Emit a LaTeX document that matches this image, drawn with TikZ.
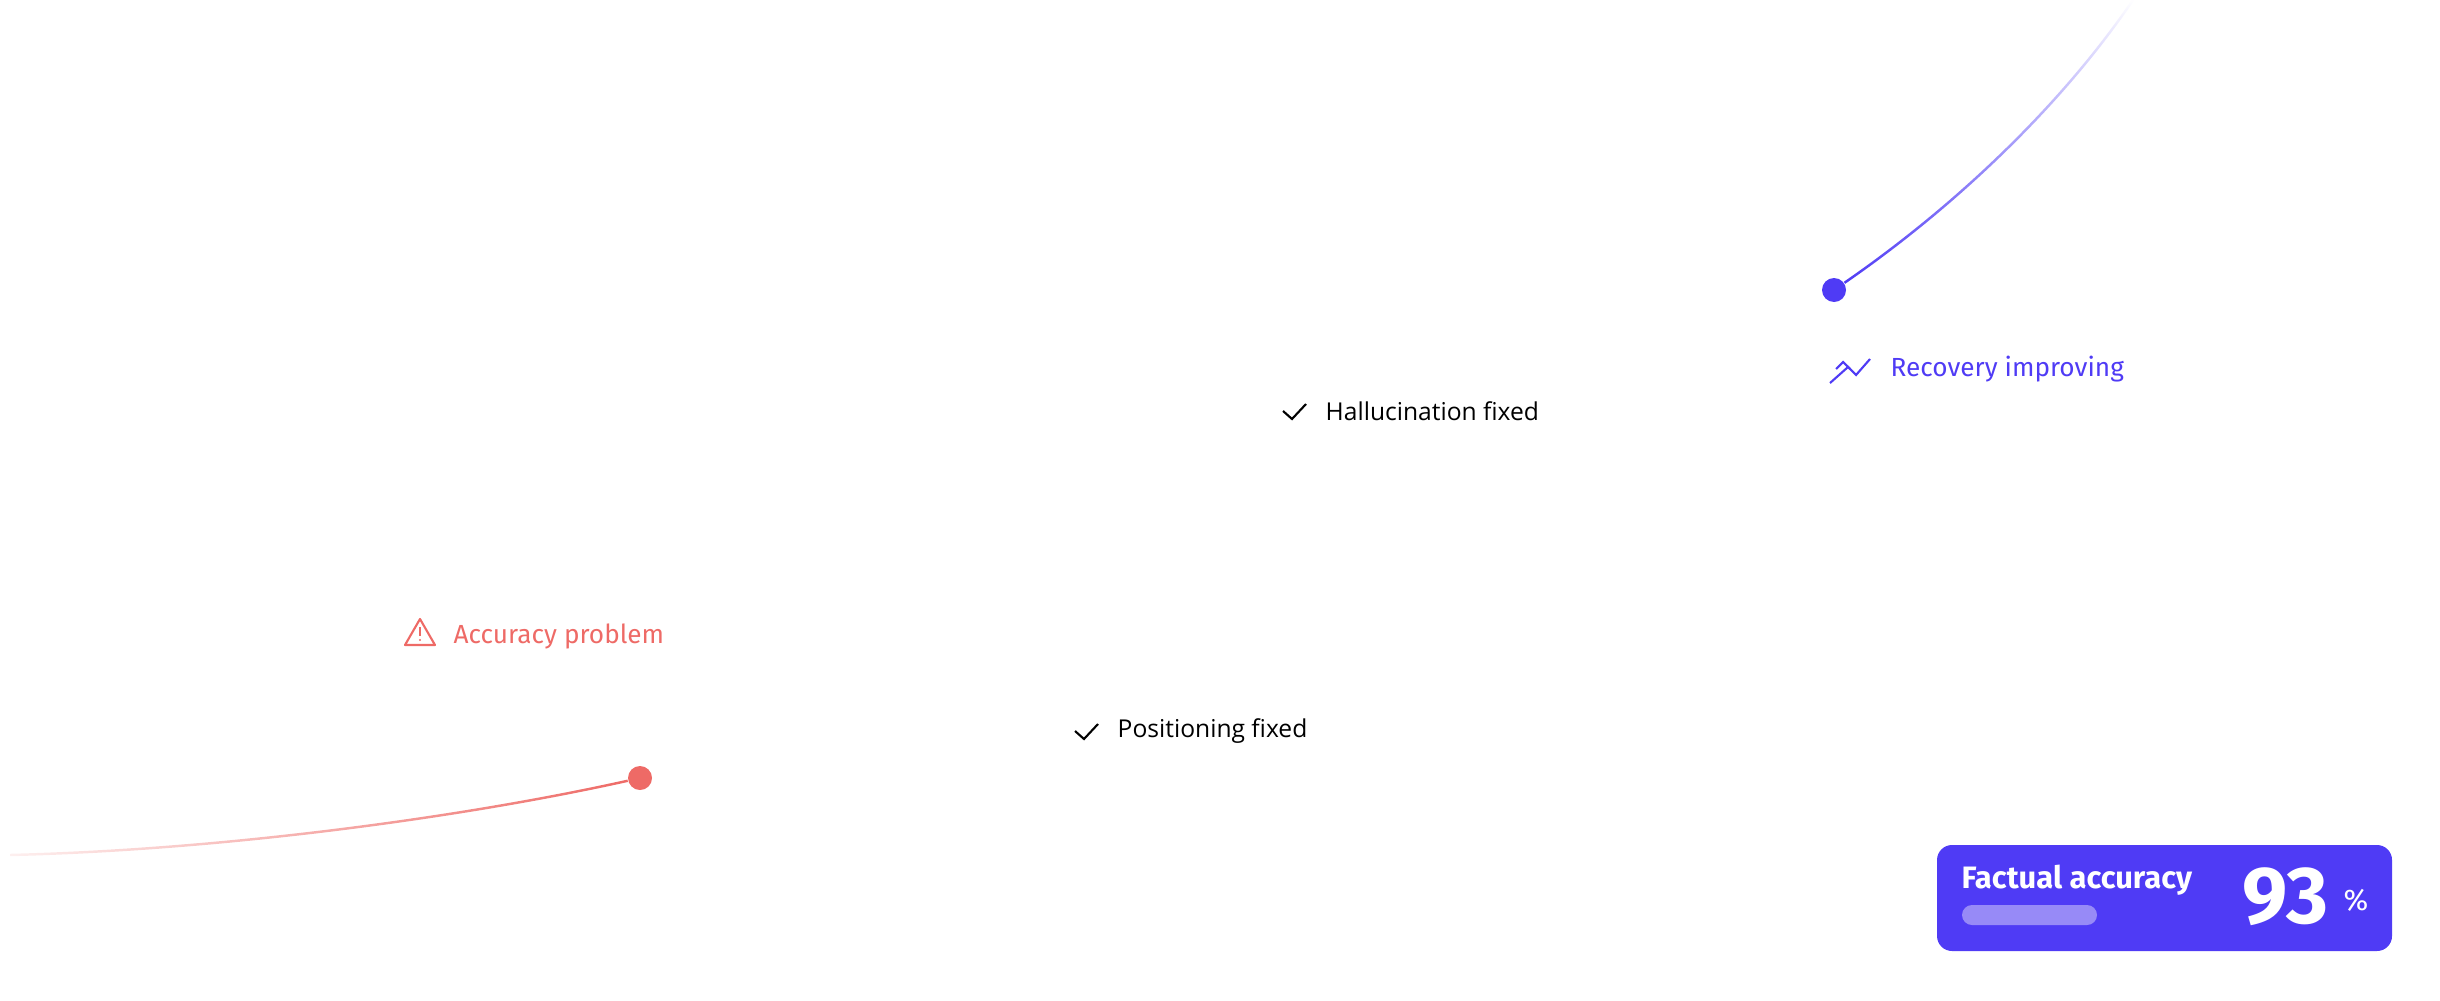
\documentclass[tikz,border=0pt]{standalone}
\usepackage{fontspec}
\setmainfont{Open Sans}
\newfontfamily\labelfont{Fira Sans}
\usetikzlibrary{positioning,fadings}
\definecolor{indigo}{HTML}{4F3BF5}
\definecolor{coral}{HTML}{EE6A66}
\definecolor{barlight}{HTML}{978AF7}
\tikzfading[name=fadetop, top color=transparent!100, middle color=transparent!0, bottom color=transparent!0]
\tikzfading[name=fadeleft, left color=transparent!90, middle color=transparent!5, right color=transparent!0]
\newlength{\pxlen}
\setlength{\pxlen}{0.01cm}
\tikzset{
  dot/.style={circle, inner sep=0pt, minimum size=24\pxlen},
  check/.style={font=\fontsize{7}{8}\selectfont, anchor=west, inner sep=0pt, text=black},
  status/.style={font=\labelfont\fontsize{7.45}{8}\selectfont, anchor=west, inner sep=0pt},
}
\begin{document}
\begin{tikzpicture}[x=0.01cm, y=-0.01cm]
        \useasboundingbox (0,0) rectangle (2440,1000);

        % recovery curve
        \node[dot, fill=indigo] (up) at (1834,290) {};
        \coordinate (uptop) at (2133,0);
        \draw[indigo, line width=0.7pt, path fading=fadetop] (up) .. controls (1950,210) and (2058,110) .. (uptop);
        \node[status, text=indigo] (rec) at (1890,369) {Recovery improving};
        \draw[indigo, line width=0.6pt] (1830,383) -- (1848,367) -- (1856,375) -- (1870,359);
        \draw[indigo, line width=0.6pt] (1836,369) -- (1843,362) -- (1850,369);

        % problem curve
        \node[dot, fill=coral] (down) at (640,778) {};
        \coordinate (downend) at (10,855);
        \draw[coral, line width=0.7pt, path fading=fadeleft] (down) .. controls (460,818) and (220,850) .. (downend);
        \node[status, text=coral] (acc) at (453,636) {Accuracy problem};
        \draw[coral, line width=0.6pt, line join=round] (420,619) -- (435,645) -- (405,645) -- cycle;
        \draw[coral, line width=0.6pt] (420,627) -- (420,636);
        \fill[coral] (420,640) circle (1.2);

        % fixes
        \node[check] (hal) at (1325,411) {Hallucination fixed};
        \draw[line width=0.6pt] (1283,411) -- (1292,419) -- (1306,404);
        \node[check] (pos) at (1117,731) {Positioning fixed};
        \draw[line width=0.6pt] (1075,731) -- (1084,739) -- (1098,724);

        % accuracy card
        \fill[indigo, rounded corners=15\pxlen] (1937,845) rectangle (2392,951);
        \node[font=\labelfont\bfseries\fontsize{8.8}{9}\selectfont, text=white, anchor=west, inner sep=0pt] (title) at (1961,880) {Factual accuracy};
        \fill[barlight, rounded corners=10\pxlen] (1962,905) rectangle (2097,925);
        \node[font=\labelfont\bfseries\fontsize{23}{25}\selectfont, text=white, anchor=east, inner sep=0pt] (val) at (2329,897) {93};
        \node[font=\labelfont\fontsize{8.5}{9}\selectfont, text=white, right=14\pxlen of val.east, anchor=west, inner sep=0pt, yshift=-1pt] (pct) {\%};

\end{tikzpicture}
\end{document}
